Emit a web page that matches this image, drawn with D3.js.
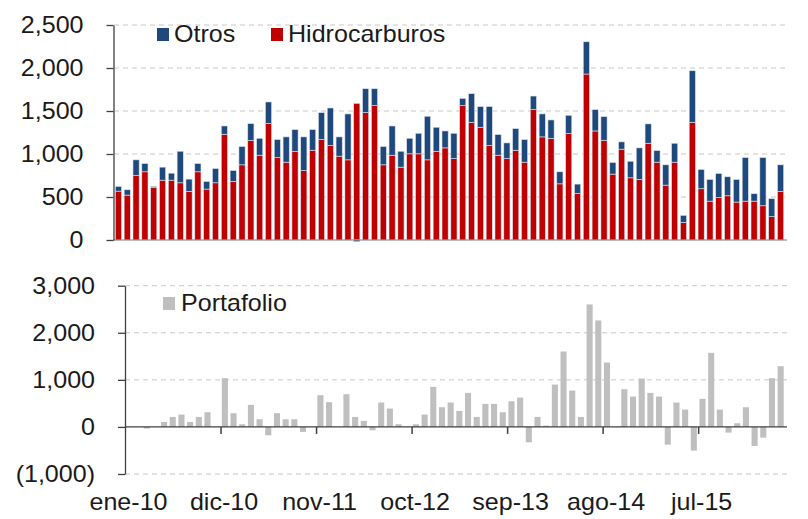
<!DOCTYPE html>
<html>
<head>
<meta charset="utf-8">
<script src="https://cdn.jsdelivr.net/npm/d3@7"></script>
<style>
  html, body { margin: 0; padding: 0; background: #fff; }
  svg { display: block; font-family: "Liberation Sans", Arial, sans-serif; }
</style>
</head>
<body>
<svg id="chart" width="808" height="519"></svg>
<script>
// ---- DATA ----
const monthNames = ["ene","feb","mar","abr","may","jun","jul","ago","sep","oct","nov","dic"];
const startYear = 10;
const nMonths = 76; // ene-10 .. abr-16

const hidrocarburos = [
  568, 522, 750, 793, 611, 696, 696, 665, 565, 793, 592, 665,
  1230, 681, 874, 1156, 986, 1353, 959, 905, 1029, 808, 1044, 1168,
  1098, 975, 932, 1589, 1481, 1562, 874, 986, 847, 1002, 1002, 932,
  1032, 1071, 947, 1562, 1369, 1311, 1098, 986, 947, 1044, 905, 1516,
  1199, 1183, 653, 1237, 541, 1930, 1268, 1160, 766, 1056, 723, 704,
  1125, 905, 638, 905, 205, 1369, 596, 452, 495, 514, 441, 452,
  452, 398, 271, 565
];
const otros = [
  55, 62, 182, 96, 12, 151, 81, 367, 143, 96, 89, 166,
  96, 127, 213, 197, 197, 252, 209, 294, 255, 391, 240, 313,
  437, 224, 534, -20, 278, 197, 213, 340, 185, 181, 239, 507,
  279, 197, 294, 85, 332, 240, 453, 240, 182, 251, 263, 158,
  267, 213, 140, 213, 109, 375, 248, 275, 135, 85, 193, 367,
  225, 135, 236, 220, 81, 599, 224, 252, 278, 221, 263, 507,
  86, 561, 209, 309
];
const portafolio = [
  0, 0, -35, 0, 106, 213, 262, 106, 213, 312, 0, 1035,
  291, 57, 468, 163, -177, 291, 163, 163, -106, 0, 674, 525,
  0, 695, 213, 128, -71, 518, 390, 57, 0, 57, 262, 851,
  418, 518, 340, 723, 213, 489, 489, 312, 546, 624, -326, 213,
  28, 900, 1602, 773, 213, 2602, 2262, 1368, 0, 801, 645, 1028,
  723, 645, -376, 518, 369, -503, 596, 1574, 369, -121, 78, 418,
  -404, -227, 1035, 1290
];
const tickIndex = [0, 11, 22, 33, 44, 55, 66];
const tickLabels = ["ene-10", "dic-10", "nov-11", "oct-12", "sep-13", "ago-14", "jul-15"];
const topTicks = [0, 500, 1000, 1500, 2000, 2500];
const bottomTicks = [-1000, 0, 1000, 2000, 3000];

const categories = d3.range(nMonths).map(i =>
  monthNames[i % 12] + "-" + (startYear + Math.floor(i / 12)));

const COL_RED = "#C00000", COL_BLUE = "#1F497D", COL_GREY = "#BFBFBF";
const GRID = "#C8C8C8", AXIS = "#404040";
const FS = 23;
const SX = 1.09; // horizontal text stretch

const svg = d3.select("#chart");
svg.append("rect").attr("width", 808).attr("height", 519).attr("fill", "#fff");

const fmt = v => v < 0 ? "(" + d3.format(",")(-v) + ")" : d3.format(",")(v);

// ---- TOP PANEL ----
const xTop = d3.scaleBand().domain(categories).range([114, 785]).paddingInner(0.3).paddingOuter(0.15);
const yTop = d3.scaleLinear().domain([0, 2500]).range([240, 25]);

const gTop = svg.append("g");
gTop.selectAll("line.grid").data(topTicks.filter(t => t > 0)).join("line")
  .attr("x1", 114).attr("x2", 787)
  .attr("y1", d => yTop(d)).attr("y2", d => yTop(d))
  .attr("stroke", GRID).attr("stroke-width", 1).attr("stroke-dasharray", "5,4");

const rows = categories.map((c, i) => ({ cat: c, hidro: hidrocarburos[i], otros: otros[i] }));
const stack = d3.stack().keys(["hidro", "otros"]).offset(d3.stackOffsetDiverging);
const series = stack(rows);
const colorMap = { hidro: COL_RED, otros: COL_BLUE };

gTop.selectAll("g.series").data(series).join("g")
  .attr("fill", d => colorMap[d.key])
  .selectAll("rect").data(d => d).join("rect")
  .attr("x", d => xTop(d.data.cat))
  .attr("width", xTop.bandwidth())
  .attr("y", d => yTop(Math.max(d[0], d[1])))
  .attr("height", d => Math.abs(yTop(d[0]) - yTop(d[1])))
  .attr("stroke", "#dbe3ee").attr("stroke-width", 0.6);

// x baseline
gTop.append("line").attr("x1", 113).attr("x2", 787)
  .attr("y1", yTop(0)).attr("y2", yTop(0)).attr("stroke", "#7f7f7f").attr("stroke-width", 1.2);

const yAxisTop = d3.axisLeft(yTop).tickValues(topTicks).tickFormat(fmt).tickSizeInner(7).tickSizeOuter(0).tickPadding(20.5);
const gyTop = gTop.append("g").attr("transform", "translate(113.5,0)").call(yAxisTop);
gyTop.select(".domain").attr("stroke", AXIS).attr("stroke-width", 1.3);
gyTop.selectAll(".tick line").attr("stroke", AXIS).attr("stroke-width", 1.3);
gyTop.selectAll(".tick text").attr("font-size", FS).attr("fill", "#1a1a1a")
  .attr("font-family", "Liberation Sans, Arial, sans-serif")
  .attr("transform", `scale(${SX},1)`);

// legend top
const legTop = [
  { label: "Otros", color: COL_BLUE, x: 157 },
  { label: "Hidrocarburos", color: COL_RED, x: 271 }
];
const lg = gTop.selectAll("g.leg").data(legTop).join("g")
  .attr("transform", d => `translate(${d.x},0)`);
lg.append("rect").attr("x", 0).attr("y", 28).attr("width", 12).attr("height", 13).attr("fill", d => d.color);
lg.append("text").attr("transform", `translate(17,42) scale(${SX},1)`)
  .attr("font-size", FS).attr("fill", "#1a1a1a").text(d => d.label);

// ---- BOTTOM PANEL ----
const xBot = d3.scaleBand().domain(categories).range([125, 785]).paddingInner(0.3).paddingOuter(0.15);
const yBot = d3.scaleLinear().domain([-1000, 3000]).range([474, 285.7]);
const xBound = d3.scaleLinear().domain([0, nMonths]).range([125, 785]);

const gBot = svg.append("g");
gBot.selectAll("line.grid").data(bottomTicks.filter(t => t !== 0)).join("line")
  .attr("x1", 125).attr("x2", 787)
  .attr("y1", d => yBot(d)).attr("y2", d => yBot(d))
  .attr("stroke", GRID).attr("stroke-width", 1).attr("stroke-dasharray", "5,4");

gBot.selectAll("rect.bar").data(portafolio).join("rect")
  .attr("x", (d, i) => xBot(categories[i]))
  .attr("width", xBot.bandwidth())
  .attr("y", d => yBot(Math.max(0, d)))
  .attr("height", d => Math.abs(yBot(d) - yBot(0)))
  .attr("fill", COL_GREY);

// zero line with tick marks
const xAxisBot = d3.axisBottom(xBound).tickValues(tickIndex.slice(1)).tickFormat("").tickSizeInner(7).tickSizeOuter(0);
const gxBot = gBot.append("g").attr("transform", `translate(0,${yBot(0)})`).call(xAxisBot);
gxBot.select(".domain").attr("stroke", AXIS).attr("stroke-width", 1.3).attr("d", "M125,0H787");
gxBot.selectAll(".tick line").attr("stroke", AXIS).attr("stroke-width", 1.5);

// x labels
const xLabAxis = d3.axisBottom(xBound).tickValues(tickIndex).tickFormat((d, i) => tickLabels[i]).tickSize(0).tickPadding(0);
const gxLab = gBot.append("g").attr("transform", "translate(3,494)").call(xLabAxis);
gxLab.select(".domain").remove();
gxLab.selectAll(".tick text").attr("font-size", FS).attr("fill", "#1a1a1a")
  .attr("font-family", "Liberation Sans, Arial, sans-serif")
  .attr("transform", `scale(${SX},1)`);

const yAxisBot = d3.axisLeft(yBot).tickValues(bottomTicks).tickFormat(fmt).tickSizeInner(7).tickSizeOuter(0).tickPadding(20.5);
const gyBot = gBot.append("g").attr("transform", "translate(125,0)").call(yAxisBot);
gyBot.select(".domain").attr("stroke", AXIS).attr("stroke-width", 1.3);
gyBot.selectAll(".tick line").attr("stroke", AXIS).attr("stroke-width", 1.3);
gyBot.selectAll(".tick text").attr("font-size", FS).attr("fill", "#1a1a1a")
  .attr("font-family", "Liberation Sans, Arial, sans-serif")
  .attr("transform", `scale(${SX},1)`);

// legend bottom
const lb = gBot.append("g").attr("transform", "translate(163,0)");
lb.append("rect").attr("x", 0).attr("y", 297).attr("width", 12).attr("height", 13).attr("fill", COL_GREY);
lb.append("text").attr("transform", `translate(18,311) scale(${SX},1)`)
  .attr("font-size", FS).attr("fill", "#1a1a1a").text("Portafolio");
</script>
</body>
</html>
